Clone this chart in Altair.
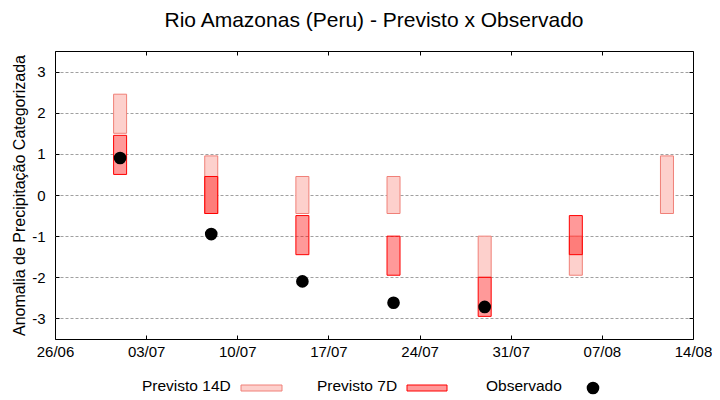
import altair as alt
import pandas as pd

# ---- data ----
dates = ["2024-07-01T00:00", "2024-07-08T00:00", "2024-07-15T00:00", "2024-07-22T00:00",
         "2024-07-29T00:00", "2024-08-05T00:00", "2024-08-12T00:00"]
p14_low = [1.5, -0.45, -0.45, -0.45, -2.0, -1.95, -0.45]
p14_high = [2.45, 0.95, 0.45, 0.45, -1.0, -1.0, 0.95]
p7_low = [0.5, -0.45, -1.45, -1.95, -2.95, -1.45, None]
p7_high = [1.45, 0.45, -0.5, -1.0, -2.0, -0.5, None]
obs = [0.9, -0.95, -2.1, -2.62, -2.72, None, None]
y_ticks = [-3, -2, -1, 0, 1, 2, 3]
x_tick_days = [(6, 26), (7, 3), (7, 10), (7, 17), (7, 24), (7, 31), (8, 7), (8, 14)]
legend_labels = ["Previsto 14D", "Previsto 7D", "Observado"]

FONT = "Liberation Sans"

df14 = pd.DataFrame({"date": dates, "low": p14_low, "high": p14_high})
df7 = pd.DataFrame({"date": dates, "low": p7_low, "high": p7_high}).dropna()
dfo = pd.DataFrame({"date": dates, "obs": obs}).dropna()

x_ticks = [alt.DateTime(year=2024, month=m, date=d) for m, d in x_tick_days]
x_domain = [x_ticks[0], x_ticks[-1]]
xscale = alt.Scale(domain=x_domain, nice=False, padding=0)
yscale = alt.Scale(domain=[-3.5, 3.5], nice=False, zero=False, padding=0)

x_bottom = alt.Axis(orient="bottom", values=x_ticks, format="%d/%m", title=None,
                    offset=-4, tickSize=4, tickColor="black", domain=False, grid=False,
                    labelFontSize=15, labelFont=FONT, labelColor="black", labelPadding=5,
                    labelFlush=False, labelOverlap=False)
y_left = alt.Axis(orient="left", values=y_ticks, labelExpr="'' + datum.value",
                  title="Anomalia de Precipitação Categorizada", titleFontSize=16,
                  titleFont=FONT, titleFontWeight="normal", titleColor="black", titlePadding=4,
                  offset=-4, tickSize=4, tickColor="black", domain=False,
                  grid=True, gridColor="#a0a0a0", gridDash=[3, 2], gridWidth=1,
                  labelFontSize=15, labelFont=FONT, labelColor="black", labelPadding=10)
x_top = alt.Axis(orient="top", values=x_ticks, labels=False, title=None, offset=-4,
                 tickSize=4, tickColor="black", domain=False, grid=False)
y_right = alt.Axis(orient="right", values=y_ticks, labels=False, title=None, offset=-4,
                   tickSize=4, tickColor="black", domain=False, grid=False)

bars14 = alt.Chart(df14).mark_bar(size=13, fill="#fdd0cc", stroke="#f08078", strokeWidth=1).encode(
    x=alt.X("date:T", scale=xscale, axis=x_bottom),
    y=alt.Y("low:Q", scale=yscale, axis=y_left),
    y2="high:Q",
)
bars7 = alt.Chart(df7).mark_bar(size=13, fill="red", fillOpacity=0.4, stroke="red", strokeWidth=1).encode(
    x=alt.X("date:T", scale=xscale, axis=x_top),
    y=alt.Y("low:Q", scale=yscale, axis=y_right),
    y2="high:Q",
)
points = alt.Chart(dfo).mark_point(filled=True, size=160, color="black", opacity=1, shape="circle").encode(
    x=alt.X("date:T", scale=xscale, axis=None),
    y=alt.Y("obs:Q", scale=yscale, axis=None),
)

# ---- legend (gnuplot style: text then sample) ----
LY = 337       # centre line of the legend row, in plot pixels
LBASE = 340    # text baseline
def legend_text(label, xpos):
    return alt.Chart(pd.DataFrame({"label": [label]})).mark_text(
        align="left", baseline="alphabetic", fontSize=15.5, font=FONT, color="black"
    ).encode(text="label:N", x=alt.value(xpos), y=alt.value(LBASE))

leg = [
    legend_text(legend_labels[0], 87),
    alt.Chart(pd.DataFrame({"label": [legend_labels[0]]})).mark_rect(
        fill="#fdd0cc", stroke="#f08078", strokeWidth=1
    ).encode(x=alt.value(186), x2=alt.value(227), y=alt.value(LY - 3), y2=alt.value(LY + 3)),
    legend_text(legend_labels[1], 262),
    alt.Chart(pd.DataFrame({"label": [legend_labels[1]]})).mark_rect(
        fill="#ff9999", stroke="red", strokeWidth=1
    ).encode(x=alt.value(352), x2=alt.value(392), y=alt.value(LY - 3), y2=alt.value(LY + 3)),
    legend_text(legend_labels[2], 431),
    alt.Chart(pd.DataFrame({"label": [legend_labels[2]]})).mark_point(
        filled=True, size=160, color="black", opacity=1, shape="circle"
    ).encode(x=alt.value(538), y=alt.value(LY)),
]

chart = alt.layer(bars14, bars7, points, *leg).resolve_axis(
    x="independent", y="independent"
).properties(
    width=638, height=288,
    autosize="none",
    padding={"left": 47, "top": 43, "right": 19, "bottom": 58},
    title=alt.TitleParams("Rio Amazonas (Peru) - Previsto x Observado", fontSize=21,
                          font=FONT, fontWeight="normal", color="black",
                          anchor="middle", offset=20),
).configure_view(stroke="black", strokeWidth=1)

chart.save("out.html", embed_options={"renderer": "svg", "actions": False})
